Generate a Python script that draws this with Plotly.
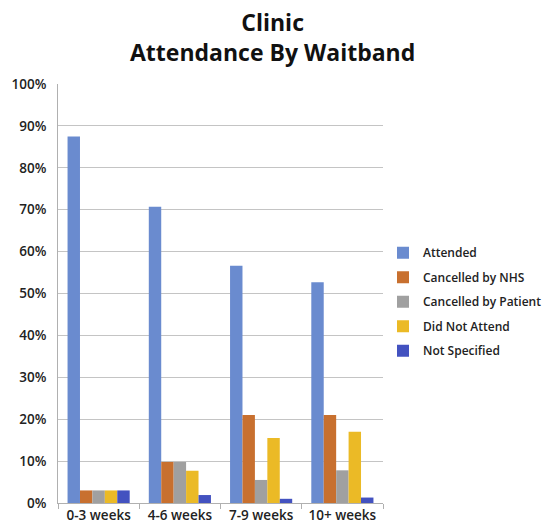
import plotly.graph_objects as go

categories = ["0-3 weeks", "4-6 weeks", "7-9 weeks", "10+ weeks"]
attended = [0.875, 0.707, 0.566, 0.527]
cancelled_nhs = [0.030, 0.098, 0.210, 0.210]
cancelled_patient = [0.030, 0.098, 0.055, 0.078]
did_not_attend = [0.030, 0.077, 0.155, 0.170]
not_specified = [0.030, 0.019, 0.010, 0.013]
series_names = ["Attended", "Cancelled by NHS", "Cancelled by Patient", "Did Not Attend", "Not Specified"]
series_values = [attended, cancelled_nhs, cancelled_patient, did_not_attend, not_specified]
colors = ["#6a8bcf", "#c8702f", "#a0a0a0", "#ebba26", "#4352c0"]
y_ticks = [i / 10 for i in range(11)]

FONT = "Open Sans"

fig = go.Figure()
for name, vals, col in zip(series_names, series_values, colors):
    fig.add_trace(go.Bar(
        x=categories, y=vals, name=name, marker_color=col,
        marker_line_width=0, legendgroup=name,
    ))

fig.update_layout(
    width=553, height=527,
    margin=dict(l=58, r=170, t=84, b=24, autoexpand=False),
    paper_bgcolor="white", plot_bgcolor="white",
    barmode="group", bargap=0.235, bargroupgap=0,
    font=dict(family=FONT, color="#222222", size=13),
    legend=dict(
        x=1.0, xanchor="left", y=0.632, yanchor="top",
        font=dict(family=FONT, size=12, color="#222222", weight=600),
        tracegroupgap=5.5, bgcolor="rgba(0,0,0,0)",
    ),
    showlegend=True,
    annotations=[dict(
        text="<b>Clinic<br>Attendance By Waitband</b>",
        xref="paper", yref="paper", x=(272 - 58) / 325, y=(503 - 37) / 419,
        xanchor="center", yanchor="middle", showarrow=False,
        font=dict(family=FONT, size=23, color="#111111"),
    )],
)
fig.update_xaxes(
    automargin=False, tickangle=0,
    showline=True, linecolor="#b0b0b0", linewidth=1,
    ticks="outside", tickson="boundaries", ticklen=5, tickcolor="#b0b0b0",
    tickfont=dict(family=FONT, size=13.5, color="#222222", weight=600),
    showgrid=False,
)
fig.update_yaxes(
    automargin=False,
    range=[0, 1], tickvals=y_ticks, tickformat=".0%",
    showgrid=True, gridcolor="#c4c4c4", gridwidth=1,
    showline=True, linecolor="#b0b0b0", linewidth=1,
    zeroline=False, ticks="", ticklabelstandoff=8,
    tickfont=dict(family=FONT, size=13.5, color="#222222", weight=600),
)

fig.write_html(
    "out.html",
    config={"displayModeBar": False},
    post_script="document.body.style.margin='0';document.body.style.overflow='hidden';",
)
